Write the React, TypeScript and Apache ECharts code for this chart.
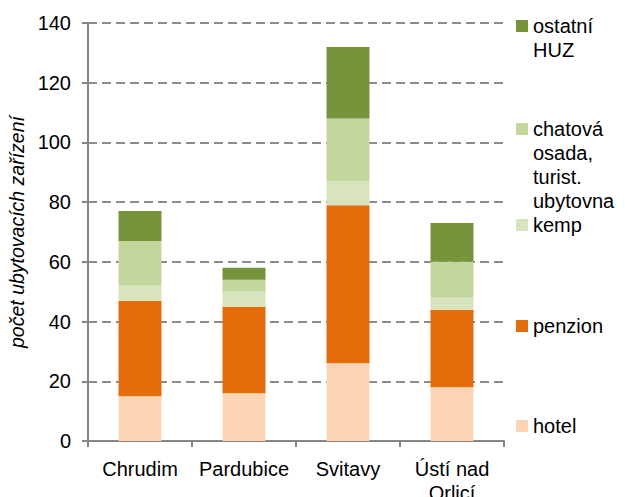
import React, { useEffect, useRef } from "react";
import * as echarts from "echarts";

const categories = ["Chrudim", "Pardubice", "Svitavy", "Ústí nad Orlicí"];
const hotel = [15, 16, 26, 18];
const penzion = [32, 29, 53, 26];
const kemp = [5, 5, 8, 4];
const chatova = [15, 4, 21, 12];
const ostatni = [10, 4, 24, 13];
const yTicks = [0, 140, 20];

const FONT = "Liberation Sans, Arial, sans-serif";
const colors = {
  hotel: "#FBD5B5",
  penzion: "#E46C0A",
  kemp: "#D7E4BD",
  chatova: "#C3D69B",
  ostatni: "#77933C",
};

export default function App() {
  const ref = useRef<HTMLDivElement>(null);
  useEffect(() => {
    if (!ref.current) return;
    const chart = echarts.init(ref.current, null, { renderer: "svg" });
    const mkSeries = (name: string, data: number[], color: string) => ({
      name,
      type: "bar",
      stack: "total",
      data,
      barWidth: 43,
      itemStyle: { color },
      emphasis: { disabled: true },
    });
    const mkLegend = (name: string, label: string, center: number) => ({
      data: [name],
      left: 516,
      top: center - 12,
      padding: 0,
      itemWidth: 12,
      itemHeight: 12,
      itemGap: 5,
      icon: "rect",
      selectedMode: false,
      formatter: () => label,
      textStyle: { fontFamily: FONT, fontSize: 20, color: "#000", lineHeight: 24 },
    });
    const contText = (text: string, y: number) => ({
      type: "text",
      left: 533,
      top: y - 12,
      style: { text, fontFamily: FONT, fontSize: 20, fill: "#000", lineHeight: 24 },
    });
    chart.setOption({
      animation: false,
      grid: { left: 88, right: 121, top: 23, bottom: 56, containLabel: false, outerBoundsMode: "none" },
      xAxis: {
        type: "category",
        data: categories,
        axisLine: { lineStyle: { color: "#868686", width: 2 } },
        axisTick: { show: true, length: 6, lineStyle: { color: "#868686", width: 2 } },
        axisLabel: {
          interval: 0,
          fontFamily: FONT,
          fontSize: 20,
          color: "#000",
          lineHeight: 24,
          margin: 16,
          formatter: (v: string) => v.replace(" nad ", " nad\n"),
        },
      },
      yAxis: {
        type: "value",
        min: yTicks[0],
        max: yTicks[1],
        interval: yTicks[2],
        name: "počet ubytovacích zařízení",
        nameLocation: "middle",
        nameGap: 59,
        nameTextStyle: { fontFamily: FONT, fontSize: 19.5, fontStyle: "italic", color: "#000" },
        axisLine: { show: true, lineStyle: { color: "#868686", width: 2 } },
        axisTick: { show: true, length: 6, lineStyle: { color: "#868686", width: 2 } },
        axisLabel: { fontFamily: FONT, fontSize: 20, color: "#000", margin: 17 },
        splitLine: { lineStyle: { color: "#8c8c8c", width: 2, type: [9, 5] } },
      },
      legend: [
        mkLegend("ostatní HUZ", "ostatní", 26),
        mkLegend("chatová osada, turist. ubytovna", "chatová", 129),
        mkLegend("kemp", "kemp", 225),
        mkLegend("penzion", "penzion", 326),
        mkLegend("hotel", "hotel", 426),
      ],
      graphic: [
        contText("HUZ", 50),
        contText("osada,", 153),
        contText("turist.", 177),
        contText("ubytovna", 201),
      ],
      series: [
        mkSeries("hotel", hotel, colors.hotel),
        mkSeries("penzion", penzion, colors.penzion),
        mkSeries("kemp", kemp, colors.kemp),
        mkSeries("chatová osada, turist. ubytovna", chatova, colors.chatova),
        mkSeries("ostatní HUZ", ostatni, colors.ostatni),
      ],
    });
    return () => chart.dispose();
  }, []);
  return <div ref={ref} style={{ width: 625, height: 497, position: "absolute", left: 0, top: 0 }} />;
}
